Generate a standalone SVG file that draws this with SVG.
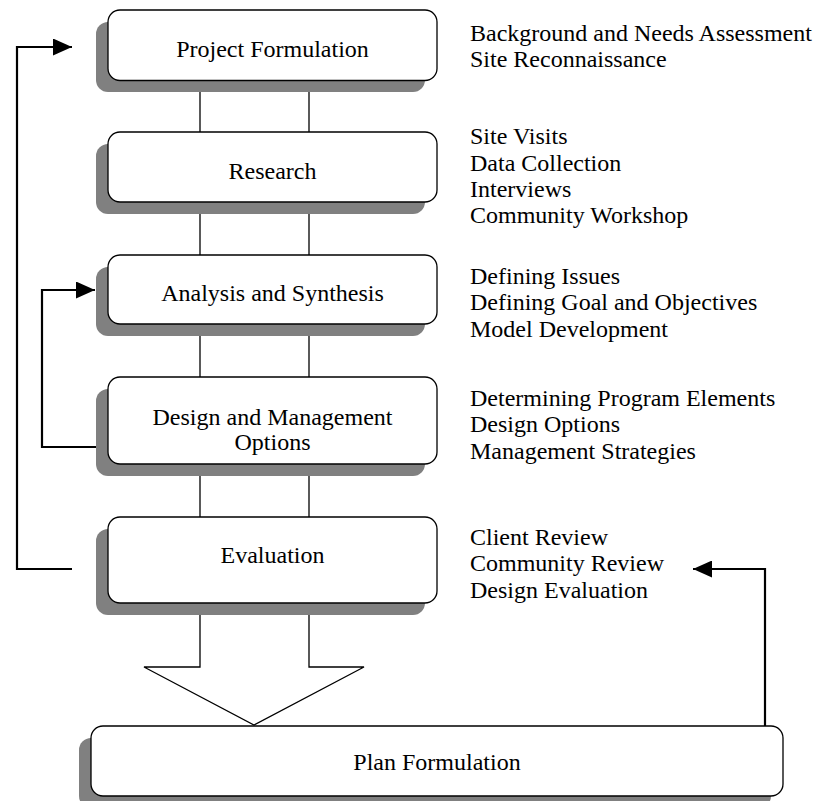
<svg xmlns="http://www.w3.org/2000/svg" width="828" height="801" viewBox="0 0 828 801">
<style>
  .shadow { fill: #808080; }
  .box { fill: #ffffff; stroke: #000000; stroke-width: 1.3; }
  .lbl { font-family: "Liberation Serif", "Times New Roman", serif; font-size: 24px; fill: #000000; }
  .mid { text-anchor: middle; }
  .conn { fill: none; stroke: #000000; stroke-width: 1.3; }
  .fb { fill: none; stroke: #000000; stroke-width: 2.2; }
</style>
<defs>
  <marker id="ah" viewBox="0 0 19 17" refX="19" refY="8.5" markerWidth="19" markerHeight="17" markerUnits="userSpaceOnUse" orient="auto">
    <path d="M0,0 L19,8.5 L0,17 Z" fill="#000000"/>
  </marker>
</defs>
<rect width="828" height="801" fill="#ffffff"/>

<g id="connectors">
  <line class="conn" x1="200" y1="80" x2="200" y2="132"/>
  <line class="conn" x1="309" y1="80" x2="309" y2="132"/>
  <line class="conn" x1="200" y1="202" x2="200" y2="255"/>
  <line class="conn" x1="309" y1="202" x2="309" y2="255"/>
  <line class="conn" x1="200" y1="324" x2="200" y2="377"/>
  <line class="conn" x1="309" y1="324" x2="309" y2="377"/>
  <line class="conn" x1="200" y1="464" x2="200" y2="517"/>
  <line class="conn" x1="309" y1="464" x2="309" y2="517"/>
  <polygon points="200,600 200,667 144,667 254,725 364,667 309,667 309,600" fill="#ffffff" stroke="#000000" stroke-width="1.3"/>
  <polyline class="fb" points="72,569 17,569 17,47 72,47" marker-end="url(#ah)"/>
  <polyline class="fb" points="97,447 42,447 42,290 95,290" marker-end="url(#ah)"/>
  <polyline class="fb" points="765,726 765,569 693,569" marker-end="url(#ah)"/>
</g>

<g id="node-project-formulation">
  <rect class="shadow" x="96" y="22" width="329" height="70" rx="12"/>
  <rect class="box" x="108" y="10" width="329" height="70.5" rx="12"/>
  <text class="lbl mid" x="272.5" y="57">Project Formulation</text>
  <text class="lbl" x="470" y="40.5">Background and Needs Assessment</text>
  <text class="lbl" x="470" y="66.5">Site Reconnaissance</text>
</g>

<g id="node-research">
  <rect class="shadow" x="96" y="144" width="329" height="70" rx="12"/>
  <rect class="box" x="108" y="132" width="329" height="70" rx="12"/>
  <text class="lbl mid" x="272.5" y="179">Research</text>
  <text class="lbl" x="470" y="144">Site Visits</text>
  <text class="lbl" x="470" y="170.5">Data Collection</text>
  <text class="lbl" x="470" y="196.5">Interviews</text>
  <text class="lbl" x="470" y="222.5">Community Workshop</text>
</g>

<g id="node-analysis">
  <rect class="shadow" x="96" y="267" width="329" height="69" rx="12"/>
  <rect class="box" x="108" y="255" width="329" height="69" rx="12"/>
  <text class="lbl mid" x="272.5" y="301">Analysis and Synthesis</text>
  <text class="lbl" x="470" y="283.5">Defining Issues</text>
  <text class="lbl" x="470" y="310">Defining Goal and Objectives</text>
  <text class="lbl" x="470" y="336.5">Model Development</text>
</g>

<g id="node-design">
  <rect class="shadow" x="96" y="389" width="329" height="87" rx="12"/>
  <rect class="box" x="108" y="377" width="329" height="87" rx="12"/>
  <text class="lbl mid" x="272.5" y="425">Design and Management</text>
  <text class="lbl mid" x="272.5" y="450">Options</text>
  <text class="lbl" x="470" y="405.5">Determining Program Elements</text>
  <text class="lbl" x="470" y="432">Design Options</text>
  <text class="lbl" x="470" y="459">Management Strategies</text>
</g>

<g id="node-evaluation">
  <rect class="shadow" x="96" y="529" width="329" height="86" rx="12"/>
  <rect class="box" x="108" y="517" width="329" height="86" rx="12"/>
  <text class="lbl mid" x="272.5" y="563">Evaluation</text>
  <text class="lbl" x="470" y="545">Client Review</text>
  <text class="lbl" x="470" y="571">Community Review</text>
  <text class="lbl" x="470" y="598">Design Evaluation</text>
</g>

<g id="node-plan-formulation">
  <rect class="shadow" x="79" y="738" width="692" height="70" rx="12"/>
  <rect class="box" x="91" y="726" width="692" height="70" rx="12"/>
  <text class="lbl mid" x="437" y="770">Plan Formulation</text>
</g>
</svg>
